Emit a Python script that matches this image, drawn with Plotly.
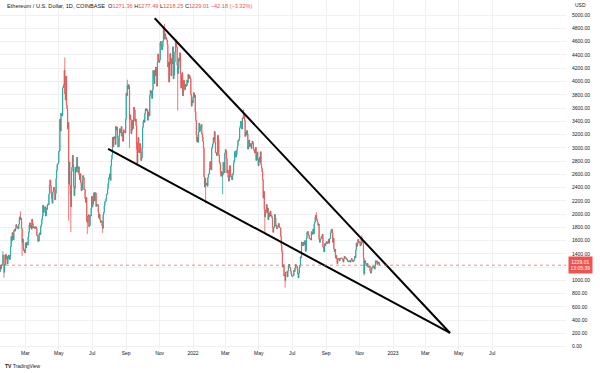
import pandas as pd
import plotly.graph_objects as go

# ---------------- data (ETH/USD daily closes, Coinbase) ----------------
start_date = "2021-01-14"
first_open = 1131

c_2021_01 = [1228, 1171, 1233, 1230, 1257, 1377, 1382, 1121, 1236, 1233, 1392, 1323, 1362, 1249, 1332, 1382, 1377, 1313]
c_2021_02 = [1370, 1511, 1660, 1594, 1719, 1679, 1614, 1751, 1769, 1743, 1785, 1843, 1812, 1801, 1780, 1781, 1848, 1937, 1960, 1920, 1935, 1781, 1571, 1626, 1476, 1447, 1459, 1417]
c_2021_03 = [1565, 1488, 1575, 1541, 1533, 1655, 1724, 1835, 1868, 1795, 1826, 1772, 1924, 1855, 1791, 1806, 1804, 1781, 1809, 1808, 1782, 1681, 1668, 1588, 1595, 1701, 1716, 1691, 1817, 1846, 1919]
c_2021_04 = [1970, 2134, 2025, 2081, 2104, 2110, 1971, 2082, 2070, 2136, 2152, 2140, 2299, 2433, 2515, 2422, 2314, 2235, 2164, 2330, 2365, 2403, 2365, 2216, 2315, 2535, 2663, 2746, 2757, 2772]
c_2021_05 = [2946, 2951, 3431, 3253, 3522, 3490, 3484, 3902, 3928, 3952, 4169, 3815, 3720, 4080, 3642, 3588, 3282, 3380, 2460, 2784, 2437, 2295, 2109, 2643, 2706, 2888, 2736, 2421, 2279, 2390, 2707]
c_2021_06 = [2634, 2708, 2856, 2689, 2630, 2713, 2592, 2517, 2610, 2472, 2353, 2372, 2508, 2580, 2549, 2367, 2372, 2231, 2177, 2250, 1890, 1875, 1970, 1990, 1812, 1830, 1980, 1970, 2088, 2270]
c_2021_07 = [2112, 2150, 2227, 2321, 2197, 2323, 2316, 2116, 2150, 2139, 2141, 2033, 1940, 1995, 1916, 1874, 1897, 1892, 1820, 1786, 1995, 2026, 2124, 2188, 2189, 2229, 2300, 2300, 2381, 2462, 2539]
c_2021_08 = [2558, 2608, 2508, 2725, 2827, 2890, 3157, 3012, 3164, 3143, 3166, 3049, 3322, 3267, 3310, 3147, 3012, 3018, 3182, 3287, 3226, 3240, 3321, 3174, 3225, 3099, 3271, 3243, 3226, 3226, 3430]
c_2021_09 = [3826, 3787, 3938, 3887, 3952, 3926, 3431, 3497, 3426, 3212, 3265, 3410, 3291, 3430, 3610, 3572, 3398, 3434, 3330, 2978, 2762, 3078, 3155, 2931, 2926, 3063, 2934, 2808, 2851, 3001]
c_2021_10 = [3309, 3391, 3421, 3384, 3518, 3582, 3589, 3560, 3579, 3416, 3542, 3496, 3481, 3789, 3865, 3830, 3848, 3745, 3878, 4165, 4058, 3970, 4170, 4085, 4219, 4131, 3929, 4288, 4415, 4325, 4289]
c_2021_11 = [4324, 4588, 4602, 4533, 4478, 4518, 4612, 4810, 4735, 4638, 4719, 4667, 4650, 4625, 4560, 4218, 4290, 3991, 4296, 4420, 4260, 4088, 4345, 4271, 4523, 4039, 4095, 4295, 4445, 4630]
c_2021_12 = [4587, 4518, 4242, 4119, 4198, 4349, 4308, 4432, 4111, 3900, 4083, 4133, 3783, 3859, 4018, 3961, 3878, 3960, 3924, 3939, 4021, 3982, 4109, 4047, 4095, 4064, 4039, 3800, 3628, 3713, 3679]
c_2022_01 = [3769, 3830, 3762, 3794, 3542, 3411, 3196, 3093, 3158, 3082, 3238, 3374, 3249, 3309, 3330, 3351, 3212, 3164, 3095, 2997, 2563, 2408, 2538, 2441, 2463, 2461, 2421, 2550, 2605, 2604, 2688]
c_2022_02 = [2791, 2681, 2666, 2990, 3021, 3058, 3150, 3122, 3245, 3078, 2929, 2920, 2882, 2932, 3186, 3124, 2887, 2785, 2763, 2622, 2571, 2640, 2580, 2598, 2780, 2779, 2620, 2919]
c_2022_03 = [2973, 2950, 2835, 2620, 2665, 2550, 2497, 2575, 2730, 2608, 2560, 2570, 2518, 2590, 2620, 2773, 2815, 2944, 2948, 2860, 2896, 2969, 3030, 3110, 3105, 3141, 3298, 3330, 3401, 3385, 3282]
c_2022_04 = [3451, 3445, 3522, 3520, 3410, 3170, 3232, 3192, 3260, 3210, 2980, 3030, 3118, 3020, 3040, 3064, 2992, 3058, 3101, 3078, 2986, 2965, 2936, 2920, 3006, 2810, 2890, 2937, 2815, 2727]
c_2022_05 = [2826, 2857, 2782, 2940, 2748, 2694, 2634, 2518, 2242, 2342, 2072, 1958, 2012, 2060, 2144, 2025, 2090, 1913, 2019, 1961, 1975, 2043, 1972, 1978, 1944, 1800, 1725, 1792, 1811, 1995, 1940]
c_2022_06 = [1818, 1832, 1775, 1805, 1805, 1858, 1812, 1793, 1790, 1662, 1530, 1437, 1206, 1208, 1236, 1068, 1087, 995, 1127, 1127, 1124, 1051, 1144, 1225, 1243, 1200, 1191, 1140, 1096, 1069]
c_2022_07 = [1060, 1067, 1075, 1151, 1134, 1187, 1238, 1217, 1218, 1168, 1096, 1038, 1112, 1192, 1232, 1355, 1340, 1580, 1543, 1521, 1576, 1535, 1551, 1600, 1440, 1450, 1636, 1725, 1737, 1696, 1680]
c_2022_08 = [1632, 1634, 1618, 1609, 1735, 1696, 1699, 1775, 1701, 1851, 1880, 1958, 1983, 1935, 1904, 1876, 1832, 1850, 1618, 1575, 1620, 1625, 1662, 1660, 1697, 1505, 1491, 1430, 1553, 1524, 1554]
c_2022_09 = [1586, 1577, 1555, 1574, 1617, 1561, 1630, 1636, 1718, 1762, 1771, 1714, 1574, 1636, 1472, 1433, 1470, 1336, 1377, 1324, 1253, 1328, 1329, 1317, 1294, 1336, 1330, 1338, 1336, 1328]
c_2022_10 = [1311, 1276, 1323, 1362, 1352, 1351, 1331, 1315, 1323, 1291, 1280, 1294, 1288, 1296, 1275, 1306, 1331, 1310, 1286, 1282, 1300, 1314, 1365, 1345, 1460, 1565, 1514, 1555, 1618, 1591, 1572]
c_2022_11 = [1579, 1520, 1531, 1646, 1629, 1571, 1568, 1334, 1102, 1300, 1286, 1256, 1220, 1245, 1254, 1202, 1200, 1211, 1218, 1142, 1109, 1134, 1184, 1203, 1198, 1215, 1195, 1170, 1217, 1296]
c_2022_12 = [1275, 1294, 1241, 1279, 1259, 1271.36, 1229.01]

# wick extremes
wick_high_dates = ["2021-01-19", "2021-02-20", "2021-05-12", "2021-09-03", "2021-11-10", "2022-04-03", "2022-08-14", "2022-11-05", "2022-12-07"]
wick_high_vals = [1440, 2040, 4362, 4027, 4868, 3580, 2030, 1680, 1277.49]
wick_low_dates = ["2021-01-21", "2021-02-23", "2021-05-19", "2021-05-23", "2021-06-22", "2021-07-20", "2021-09-07", "2021-09-21", "2021-12-04", "2022-01-24", "2022-02-24", "2022-05-12", "2022-06-18", "2022-11-09", "2022-12-07"]
wick_low_vals = [1040, 1370, 1900, 1730, 1700, 1718, 3000, 2740, 3560, 2160, 2300, 1700, 890, 1073, 1218.25]

# falling-wedge trendlines
upper_trend_dates = ["2021-10-23", "2023-04-15"]
upper_trend_prices = [4953, 207]
lower_trend_dates = ["2021-07-30", "2023-04-15"]
lower_trend_prices = [2982, 207]

# axis ticks
x_tick_dates = ["2021-03-01", "2021-05-01", "2021-07-01", "2021-09-01", "2021-11-01", "2022-01-01",
                "2022-03-01", "2022-05-01", "2022-07-01", "2022-09-01", "2022-11-01", "2023-01-01",
                "2023-03-01", "2023-05-01", "2023-07-01"]
x_tick_labels = ["Mar", "May", "Jul", "Sep", "Nov", "2022", "Mar", "May", "Jul", "Sep", "Nov", "2023",
                 "Mar", "May", "Jul"]
y_tick_vals = list(range(0, 5001, 200))
y_tick_labels = [f"{v:.2f}" for v in y_tick_vals]

header_name = "Ethereum / U.S. Dollar, 1D, COINBASE"
ohlc_o, ohlc_h, ohlc_l, ohlc_c = "1271.36", "1277.49", "1218.25", "1229.01"
change_text = "\u221242.18 (\u22123.32%)"
countdown = "13:05:39"

# ---------------- build ----------------
closes = sum([c_2021_01, c_2021_02, c_2021_03, c_2021_04, c_2021_05, c_2021_06, c_2021_07,
              c_2021_08, c_2021_09, c_2021_10, c_2021_11, c_2021_12, c_2022_01, c_2022_02,
              c_2022_03, c_2022_04, c_2022_05, c_2022_06, c_2022_07, c_2022_08, c_2022_09,
              c_2022_10, c_2022_11, c_2022_12], [])
dates = pd.date_range(start_date, periods=len(closes), freq="D")
opens = [first_open] + closes[:-1]
hi_map = dict(zip(pd.to_datetime(wick_high_dates), wick_high_vals))
lo_map = dict(zip(pd.to_datetime(wick_low_dates), wick_low_vals))
highs = [max(o, c, hi_map.get(d, 0)) for d, o, c in zip(dates, opens, closes)]
lows = [min(o, c, lo_map.get(d, 1e9)) for d, o, c in zip(dates, opens, closes)]

UP = "#26a69a"
DOWN = "#ef5350"
FONT = "Liberation Sans, Arial, sans-serif"
TXT = "#131722"

W, H = 600, 373
ML, MR, MT, MB = 0, 34, 0, 24
PW, PH = W - ML - MR, H - MT - MB

fig = go.Figure()
fig.add_trace(go.Candlestick(
    x=dates, open=opens, high=highs, low=lows, close=closes,
    increasing=dict(line=dict(color=UP, width=0.8), fillcolor=UP),
    decreasing=dict(line=dict(color=DOWN, width=0.8), fillcolor=DOWN),
    whiskerwidth=0, hoverinfo="skip", showlegend=False,
))
fig.add_trace(go.Scatter(x=upper_trend_dates, y=upper_trend_prices, mode="lines",
                         line=dict(color="#000000", width=2), hoverinfo="skip", showlegend=False))
fig.add_trace(go.Scatter(x=lower_trend_dates, y=lower_trend_prices, mode="lines",
                         line=dict(color="#000000", width=2), hoverinfo="skip", showlegend=False))

last_close = closes[-1]
fig.add_hline(y=last_close, line=dict(color=DOWN, width=0.7, dash="dot"))

def px_x(p):
    return (p - ML) / PW

def px_y(p):
    return 1 - (p - MT) / PH

annotations = [
    dict(x=px_x(5), y=px_y(6), xref="paper", yref="paper", xanchor="left", yanchor="middle",
         showarrow=False, align="left", font=dict(family=FONT, size=5.6, color=TXT),
         text=(f"{header_name}&nbsp;&nbsp;O<span style='color:{DOWN}'>{ohlc_o}</span> "
               f"H<span style='color:{DOWN}'>{ohlc_h}</span> L<span style='color:{DOWN}'>{ohlc_l}</span> "
               f"C<span style='color:{DOWN}'>{ohlc_c} {change_text}</span>")),
    dict(x=px_x(573), y=px_y(5), xref="paper", yref="paper", xanchor="left", yanchor="middle",
         showarrow=False, font=dict(family=FONT, size=5, color=TXT), text="USD"),
    dict(x=px_x(580.5), y=last_close, xref="paper", yref="y", xanchor="center", yanchor="middle",
         showarrow=False, bgcolor=DOWN, borderpad=1.5, font=dict(family=FONT, size=5, color="#ffffff"),
         text=f"{last_close:.2f}<br>{countdown}"),
    dict(x=px_x(3), y=px_y(366), xref="paper", yref="paper", xanchor="left", yanchor="middle",
         showarrow=False, font=dict(family=FONT, size=5, color=TXT),
         text="<b>TV</b> TradingView"),
]

fig.update_layout(
    width=W, height=H, autosize=False,
    margin=dict(l=ML, r=MR, t=MT, b=MB, pad=0),
    paper_bgcolor="#ffffff", plot_bgcolor="#ffffff",
    annotations=annotations,
    xaxis=dict(
        type="date", range=["2021-01-13 16:00", "2023-11-12 16:00"],
        rangeslider=dict(visible=False), automargin=False,
        tickvals=x_tick_dates, ticktext=x_tick_labels,
        showgrid=True, gridcolor="#eef0f4", gridwidth=1, zeroline=False,
        showline=False, ticks="", tickfont=dict(family=FONT, size=5, color=TXT),
    ),
    yaxis=dict(
        side="right", range=[-34.7, 5229], automargin=False,
        tickvals=y_tick_vals, ticktext=y_tick_labels,
        showgrid=True, gridcolor="#eef0f4", gridwidth=1, zeroline=False,
        showline=False, ticks="outside", ticklen=4, tickcolor="rgba(0,0,0,0)",
        tickfont=dict(family=FONT, size=5, color=TXT),
    ),
)

fig.write_html("out.html", config={"displayModeBar": False, "staticPlot": True},
               post_script="document.body.style.margin='0px';document.body.style.overflow='hidden';")
